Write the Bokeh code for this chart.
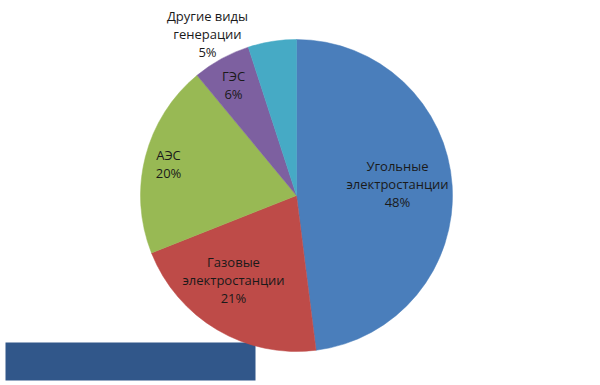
import math
from bokeh.plotting import figure
from bokeh.models import Range1d, ColumnDataSource
from bokeh.core.properties import value
from bokeh.embed import file_html
from bokeh.resources import INLINE

# ---- data ----
categories = ["Угольные\nэлектростанции", "Газовые\nэлектростанции", "АЭС", "ГЭС", "Другие виды\nгенерации"]
shares = [48, 21, 20, 6, 5]
colors = ["#4A7EBB", "#BE4B48", "#98B954", "#7D60A0", "#46AAC5"]

# ---- layout (page pixel coordinates, y measured from top) ----
W, H = 600, 385
cx_pg, cy_pg, R = 296, 195, 156
# label centre offsets from pie centre (page px)
label_off = [(101, -12), (-63, 84), (-128, -32), (-63, -111), (-89, -162)]

def ty(page_y):
    return H - page_y

p = figure(width=W, height=H, output_backend="svg", toolbar_location=None,
           x_range=Range1d(0, W), y_range=Range1d(0, H),
           min_border=0, background_fill_color="white", border_fill_color="white")
p.axis.visible = False
p.grid.visible = False
p.outline_line_color = None

# bottom-left dark banner
p.quad(left=[5], right=[255], top=[ty(342)], bottom=[ty(380)],
       fill_color="#31578A", line_color=None)

total = sum(shares)
starts, ends, cum = [], [], 0.0
for s in shares:
    a0 = math.pi / 2 - 2 * math.pi * (cum + s) / total
    a1 = math.pi / 2 - 2 * math.pi * cum / total
    starts.append(a0)
    ends.append(a1)
    cum += s

src = ColumnDataSource(dict(x=[cx_pg] * len(shares), y=[ty(cy_pg)] * len(shares),
                            start=starts, end=ends, color=colors))
p.wedge(x="x", y="y", radius=R, start_angle="start", end_angle="end",
        fill_color="color", line_color="color", line_width=0.5, source=src)

texts = [f"{c}\n{s}%" for c, s in zip(categories, shares)]
lx = [cx_pg + dx for dx, dy in label_off]
ly = [ty(cy_pg + dy) for dx, dy in label_off]
p.text(x=lx, y=ly, text=texts, text_align="center", text_baseline="middle",
       text_font=value("Open Sans"), text_font_size="13px", text_color="#1a1a1a",
       text_line_height=1.0)

open("out.html", "w").write(file_html(p, INLINE))
